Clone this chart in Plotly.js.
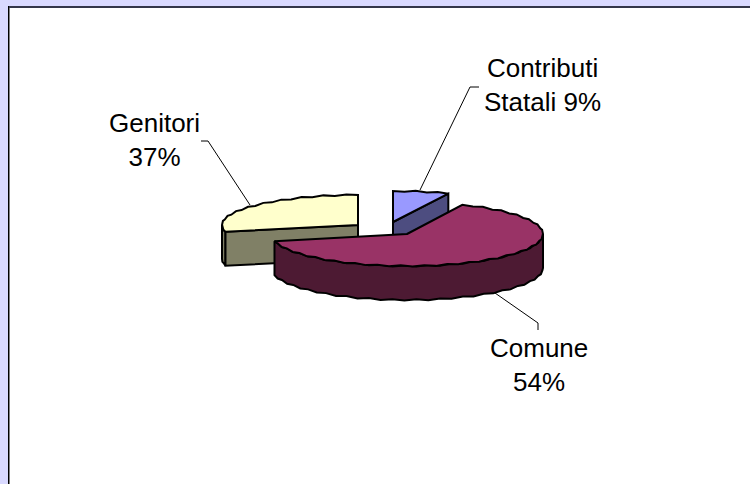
<!DOCTYPE html>
<html><head><meta charset="utf-8">
<script src="https://cdn.plot.ly/plotly-3.0.1.min.js"></script>
<style>html,body{margin:0;padding:0;background:#D9D9FF}</style></head>
<body><div id="c" style="width:750px;height:484px"></div>
<script>
var categories = ["Contributi Statali", "Comune", "Genitori"];
var values = [9, 54, 37];
var labelLines = [["Contributi", "Statali 9%"], ["Comune", "54%"], ["Genitori", "37%"]];

// The reference's 3D projection does not sweep the slices in proportion to their
// values, so cumulative share is mapped to the projected rim angle it shows.
var shareStops = [0, 9, 63, 100];
var rimStops = [0, 24, 257, 360];
function rimAngle(share) {
  for (var i = 1; i < shareStops.length; i++) {
    if (share <= shareStops[i] + 1e-9) {
      var f = (share - shareStops[i-1]) / (shareStops[i] - shareStops[i-1]);
      return rimStops[i-1] + f * (rimStops[i] - rimStops[i-1]);
    }
  }
  return 360;
}
var rx = 136, depth = 34, STEP = 5, SCALLOP = 0.6;
var slices = [
  {apex:[393,222], ry:31, top:"#9999FF", side:"#4D4D80"},
  {apex:[407,234], ry:32, top:"#993366", side:"#4D1A33"},
  {apex:[358,225], ry:30, top:"#FFFFCC", side:"#808066"}
];
function rim(s, deg, dy) {
  var r = deg * Math.PI / 180;
  return [s.apex[0] + rx * Math.sin(r), s.apex[1] - s.ry * Math.cos(r) + (dy || 0)];
}
function arc(s, a0, a1, dy) {
  var pts = [], n = Math.max(1, Math.round(Math.abs(a1 - a0) / STEP));
  for (var i = 0; i <= n; i++) {
    var p = rim(s, a0 + (a1 - a0) * i / n, dy);
    if (i > 0 && i < n) p[1] += (i % 2 ? SCALLOP : -SCALLOP);
    pts.push(p);
  }
  return pts;
}
function poly(pts, color) {
  return {type:"scatter", mode:"lines", fill:"toself", fillcolor:color,
    x:pts.map(function(p){return p[0]}).concat([pts[0][0]]),
    y:pts.map(function(p){return p[1]}).concat([pts[0][1]]),
    line:{color:"#000", width:2}, hoverinfo:"skip", showlegend:false};
}
function leader(xs, ys) {
  return {type:"scatter", mode:"lines", x:xs, y:ys, line:{color:"#000", width:1},
    hoverinfo:"skip", showlegend:false};
}
var traces = [], starts = [], cum = 0;
values.forEach(function(v){ starts.push([cum, cum + v]); cum += v; });
function angles(i){ return [rimAngle(starts[i][0]), rimAngle(starts[i][1])]; }
function apexDown(s){ return [s.apex[0], s.apex[1] + depth]; }

// Genitori
(function(){
  var s = slices[2], a = angles(2);
  var e0 = rim(s, a[0]);
  traces.push(poly(arc(s, a[0], 270, 0).concat(arc(s, 270, a[0], depth)), s.side));
  traces.push(poly([s.apex, e0, rim(s, a[0], depth), apexDown(s)], s.side));
  traces.push(poly([s.apex].concat(arc(s, a[0], a[1])), s.top));
})();
// Contributi Statali
(function(){
  var s = slices[0], a = angles(0);
  var e1 = rim(s, a[1]);
  traces.push(poly([s.apex, e1, rim(s, a[1], depth), apexDown(s)], s.side));
  traces.push(poly([s.apex].concat(arc(s, a[0], a[1])), s.top));
})();
// Comune
(function(){
  var s = slices[1], a = angles(1);
  traces.push(poly(arc(s, 90, a[1], 0).concat(arc(s, a[1], 90, depth)), s.side));
  traces.push(poly([s.apex].concat(arc(s, a[0], a[1])), s.top));
})();
traces.push(leader([420,470,479],[190,87,87]));
traces.push(leader([250,208,201],[205,141,141]));
traces.push(leader([495,538,538],[293,323,330]));

var labelPos = [[542,85],[539,365],[154,140]];
var annotations = labelLines.map(function(l,i){
  return {x:labelPos[i][0], y:labelPos[i][1], xref:"x", yref:"y", text:l.join("<br>"),
    showarrow:false, align:"center", xanchor:"center", yanchor:"middle",
    font:{family:"Liberation Sans, Arial, sans-serif", size:26, color:"#000"}};
});
var layout = {
  width:750, height:484, margin:{l:0,r:0,t:0,b:0}, paper_bgcolor:"#D9D9FF", plot_bgcolor:"rgba(0,0,0,0)",
  xaxis:{range:[0,750], visible:false, fixedrange:true},
  yaxis:{range:[484,0], visible:false, fixedrange:true},
  shapes:[
    {type:"rect", xref:"x", yref:"y", x0:8, y0:6, x1:760, y1:494, fillcolor:"#fff", line:{width:0}, layer:"below"},
    {type:"line", xref:"x", yref:"y", x0:8, y0:7, x1:760, y1:7, line:{color:"#33364A", width:2}, layer:"below"},
    {type:"line", xref:"x", yref:"y", x0:8.5, y0:6, x1:8.5, y1:494, line:{color:"#000", width:1}, layer:"below"},
    {type:"line", xref:"x", yref:"y", x0:9.5, y0:8, x1:9.5, y1:494, line:{color:"#808080", width:1}, layer:"below"}
  ],
  annotations:annotations, showlegend:false
};
Plotly.newPlot("c", traces, layout, {displayModeBar:false, staticPlot:true});
</script></body></html>
